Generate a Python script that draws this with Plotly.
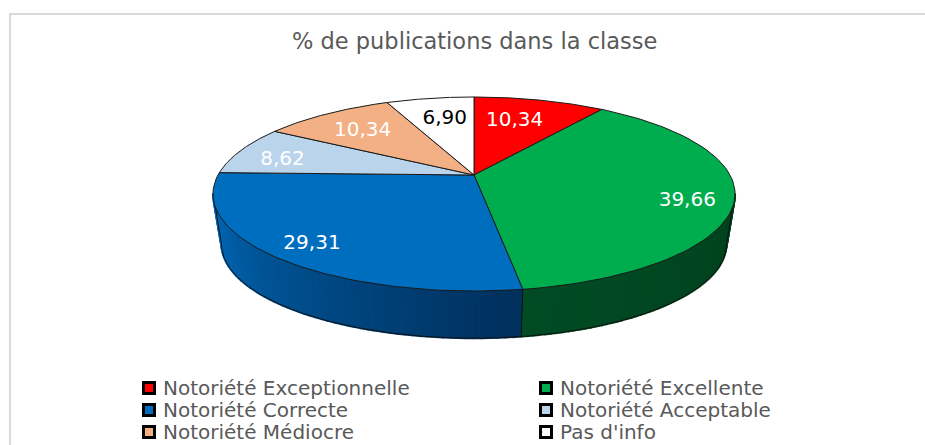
import numpy as np
import plotly.graph_objects as go

# Valeurs (la somme ne fait pas 100, Excel normalise)
categories = ["Notoriété Exceptionnelle", "Notoriété Excellente", "Notoriété Correcte",
              "Notoriété Acceptable", "Notoriété Médiocre", "Pas d'info"]
values = [10.34, 39.66, 29.31, 8.62, 10.34, 6.90]
value_labels = ["10,34", "39,66", "29,31", "8,62", "10,34", "6,90"]
colors = ["#ff0000", "#00ad4e", "#006ebf", "#bad4ec", "#f2b084", "#ffffff"]
label_colors = ["white", "white", "white", "white", "white", "black"]

# Géométrie du camembert 3D, en pixels de la page
CX, CY = 474, 175
RX, RY = 256, 93.3
PERSP = 0.196
BOTTOM_CY, BOTTOM_SCALE = 226, 0.967
LABEL_RADIUS = [0.70, 0.83, 0.84, 0.80, 0.73, 0.72]
LABEL_SHIFT = [-2.8, 3.8, 0, -2.3, 0, 1.4]
FONT = "DejaVu Sans"


def project(theta, r=1.0, cy=CY, scale=1.0):
    # theta en degrés, 0 = arrière du disque, sens horaire
    t = np.radians(theta)
    u, v = r * np.sin(t), r * np.cos(t)
    d = 1 + PERSP * v
    return CX + scale * RX * u / d, cy - scale * RY * v / d


def lerp_color(a, b, f):
    return "rgb(%d,%d,%d)" % tuple(a[i] + (b[i] - a[i]) * f for i in range(3))


def edge(theta):
    # segment vertical de la tranche à l'angle theta
    x1, y1 = project(theta)
    x2, y2 = project(theta, cy=BOTTOM_CY, scale=BOTTOM_SCALE)
    return [x1, x2], [y1, y2]


shares = np.array(values) / sum(values) * 360
ends = np.cumsum(shares)
starts = ends - shares

fig = go.Figure()

# Cadre du graphique
fig.add_trace(go.Scatter(x=[10, 10, 925], y=[445, 14, 14], mode="lines",
                         line=dict(color="#d9d9d9", width=2), hoverinfo="skip", showlegend=False))

# Tranche (côté visible) : vert puis bleu, découpés en bandes pour le dégradé
SIDE_LEFT, SIDE_RIGHT = 259, 101
N_STRIPS = 60
walls = [(1, (0, 66, 30), (0, 76, 36)), (2, (0, 48, 92), (0, 106, 186))]
for idx, col_a, col_b in walls:
    a = max(starts[idx], SIDE_RIGHT)
    b = min(ends[idx], SIDE_LEFT)
    edges = np.linspace(a, b, N_STRIPS + 1)
    for k in range(N_STRIPS):
        th = np.linspace(edges[k], edges[k + 1], 3)
        x1, y1 = project(th)
        x2, y2 = project(th[::-1], cy=BOTTOM_CY, scale=BOTTOM_SCALE)
        c = lerp_color(col_a, col_b, k / (N_STRIPS - 1))
        fig.add_trace(go.Scatter(x=np.r_[x1, x2], y=np.r_[y1, y2], mode="lines", fill="toself",
                                 fillcolor=c, line=dict(color=c, width=2),
                                 hoverinfo="skip", showlegend=False))

# Contours de la tranche
th = np.linspace(SIDE_RIGHT, SIDE_LEFT, 200)
outlines = [project(th, cy=BOTTOM_CY, scale=BOTTOM_SCALE), edge(ends[1]), edge(SIDE_RIGHT), edge(SIDE_LEFT)]
for xs, ys in outlines:
    fig.add_trace(go.Scatter(x=xs, y=ys, mode="lines", line=dict(color="#111111", width=1),
                             hoverinfo="skip", showlegend=False))

# Dessus du disque
for i, name in enumerate(categories):
    th = np.linspace(starts[i], ends[i], 80)
    x, y = project(th)
    fig.add_trace(go.Scatter(x=np.r_[CX, x, CX], y=np.r_[CY, y, CY], mode="lines", fill="toself",
                             fillcolor=colors[i], line=dict(color="#1a1a1a", width=1),
                             name=name, text=value_labels[i], hoverinfo="name+text", showlegend=False))

# Étiquettes de valeurs
mids = (starts + ends) / 2 + np.array(LABEL_SHIFT)
lx, ly = project(mids, r=np.array(LABEL_RADIUS))
fig.add_trace(go.Scatter(x=lx, y=ly + 2, mode="text", text=value_labels,
                         textfont=dict(family=FONT, size=20, color=label_colors),
                         hoverinfo="skip", showlegend=False))

# Légende sur deux colonnes
LEGEND_X = [149, 546]
LEGEND_Y = [388, 410, 432]
leg_x = np.array([LEGEND_X[i % 2] for i in range(len(categories))])
leg_y = np.array([LEGEND_Y[i // 2] for i in range(len(categories))])
fig.add_trace(go.Scatter(x=leg_x, y=leg_y, mode="markers",
                         marker=dict(symbol="square", size=11, color=colors,
                                     line=dict(color="black", width=3)),
                         hoverinfo="skip", showlegend=False))
fig.add_trace(go.Scatter(x=leg_x + 14, y=leg_y + 2, mode="text", text=categories,
                         textposition="middle right",
                         textfont=dict(family=FONT, size=20, color="#595959"),
                         hoverinfo="skip", showlegend=False))

fig.update_layout(
    width=925, height=445,
    margin=dict(l=0, r=0, t=0, b=0),
    paper_bgcolor="white", plot_bgcolor="white",
    showlegend=False,
    xaxis=dict(range=[0, 925], visible=False, fixedrange=True),
    yaxis=dict(range=[445, 0], visible=False, fixedrange=True),
    annotations=[dict(text="% de publications dans la classe", x=474.5, y=41, xref="x", yref="y",
                      showarrow=False, font=dict(family=FONT, size=22.5, color="#595959"))],
)

# La marge par défaut du body décalerait tout de 8 px
fig.write_html("out.html", config=dict(displayModeBar=False),
               post_script="document.body.style.margin='0';document.body.style.overflow='hidden';")
